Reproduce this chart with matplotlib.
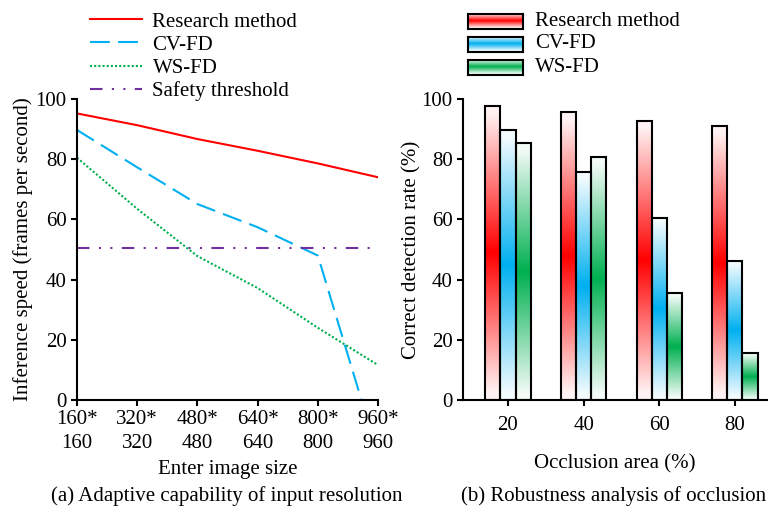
import numpy as np
import matplotlib
matplotlib.use('Agg')
import matplotlib.pyplot as plt
from matplotlib.patches import Rectangle
from matplotlib.colors import to_rgb

plt.rcParams['font.family'] = ['Liberation Serif', 'DejaVu Serif']
plt.rcParams['font.size'] = 15

# (a) inference speed vs input size
sizes = [160, 320, 480, 640, 800, 960]
size_labels = ['160*\n160', '320*\n320', '480*\n480', '640*\n640', '800*\n800', '960*\n960']
speed_research = [95.2, 91.3, 86.7, 82.8, 78.6, 74.0]
cvfd_x = [160, 320, 480, 640, 800, 916]
speed_cvfd = [89.7, 77.3, 65.1, 57.4, 48.0, 0.0]
speed_wsfd = [80.5, 63.5, 47.8, 37.2, 24.0, 11.6]
safety = 50.5

# (b) detection rate vs occlusion area
occlusion = [20, 40, 60, 80]
rate_research = [97.7, 95.6, 92.7, 91.1]
rate_cvfd = [89.7, 75.6, 60.6, 46.2]
rate_wsfd = [85.3, 80.6, 35.4, 15.5]

RED = '#FF0000'
BLUE = '#00B0F0'
GREEN = '#00B050'
PURPLE = '#7030A0'


def grad_image(color, n=200):
    t = np.linspace(0, 1, n)
    w = 1 - np.abs(2 * t - 1)
    w = np.clip(w, 0.05, 1)[:, None, None]
    c = np.array(to_rgb(color))[None, None, :]
    return (1 - w) * 1.0 + w * c


def gradient_bar(ax, x, h, width, color):
    ax.imshow(grad_image(color), extent=(x - width / 2, x + width / 2, 0, h),
              origin='lower', aspect='auto', zorder=2, interpolation='bilinear')
    ax.add_patch(Rectangle((x - width / 2, 0), width, h, fill=False,
                           edgecolor='black', lw=1.5, zorder=3))


fig = plt.figure(figsize=(7.72, 5.09), dpi=100)

# ---------- left plot ----------
ax1 = fig.add_axes([77 / 772, 1 - 400 / 509, 301 / 772, 301 / 509])
ax1.plot(sizes, speed_research, color=RED, lw=1.5, label='Research method')
ax1.plot(cvfd_x, speed_cvfd, color=BLUE, lw=1.5, dashes=(9.5, 4), label='CV-FD')
ax1.plot(sizes, speed_wsfd, color=GREEN, lw=1.5, dashes=(1, 1), label='WS-FD')
ax1.plot([sizes[0], sizes[-1]], [safety, safety], color=PURPLE, lw=1.5,
         dashes=(6, 4.5, 1, 4.5, 1, 4.5), label='Safety threshold')
ax1.set_xlim(160, 960)
ax1.set_ylim(0, 100)
ax1.set_xticks(sizes)
ax1.set_xticklabels(size_labels, linespacing=1.35)
ax1.set_yticks([0, 20, 40, 60, 80, 100])
ax1.set_xlabel('Enter image size', labelpad=5)
ax1.set_ylabel('Inference speed (frames per second)', labelpad=2)
for s in ['top', 'right']:
    ax1.spines[s].set_visible(False)
for s in ['left', 'bottom']:
    ax1.spines[s].set_linewidth(1.5)
ax1.tick_params(direction='out', length=4.5, width=1.5, pad=3)
ax1.legend(loc='upper left', bbox_to_anchor=(90 / 772, 1 - 12 / 509),
           bbox_transform=fig.transFigure, frameon=False, borderpad=0,
           handlelength=2.5, handletextpad=0.5, labelspacing=0.17,
           borderaxespad=0)

# ---------- right plot ----------
ax2 = fig.add_axes([463 / 772, 1 - 400 / 509, 304 / 772, 301 / 509])
bw = 4
for i, occ in enumerate(occlusion):
    gradient_bar(ax2, occ - bw, rate_research[i], bw, RED)
    gradient_bar(ax2, occ, rate_cvfd[i], bw, BLUE)
    gradient_bar(ax2, occ + bw, rate_wsfd[i], bw, GREEN)
ax2.set_xlim(8.1, 88.5)
ax2.set_ylim(0, 100)
ax2.set_xticks(occlusion)
ax2.set_yticks([0, 20, 40, 60, 80, 100])
ax2.set_xlabel('Occlusion area (%)', labelpad=14)
ax2.set_ylabel('Correct detection rate (%)', labelpad=0)
for s in ['top', 'right']:
    ax2.spines[s].set_visible(False)
for s in ['left', 'bottom']:
    ax2.spines[s].set_linewidth(1.5)
ax2.tick_params(direction='out', length=4.5, width=1.5, pad=3)
ax2.tick_params(axis='x', pad=7)

# legend for bars, drawn by hand so the swatches keep the gradient
leg_names = ['Research method', 'CV-FD', 'WS-FD']
leg_colors = [RED, BLUE, GREEN]
for k, (name, col) in enumerate(zip(leg_names, leg_colors)):
    yc = 21 + k * 23
    sw = fig.add_axes([468 / 772, 1 - (yc + 7.5) / 509, 55 / 772, 15 / 509])
    sw.imshow(grad_image(col), origin='lower', aspect='auto',
              extent=(0, 1, 0, 1), interpolation='bilinear')
    sw.set_xticks([])
    sw.set_yticks([])
    for s in sw.spines.values():
        s.set_linewidth(1.5)
    fig.text(535 / 772, 1 - yc / 509, name, va='center', ha='left')

# captions
fig.text(227 / 772, 1 - 496 / 509, '(a) Adaptive capability of input resolution',
         ha='center', va='center')
fig.text(614 / 772, 1 - 496 / 509, '(b) Robustness analysis of occlusion',
         ha='center', va='center')

fig.savefig('out.png', dpi=100)
